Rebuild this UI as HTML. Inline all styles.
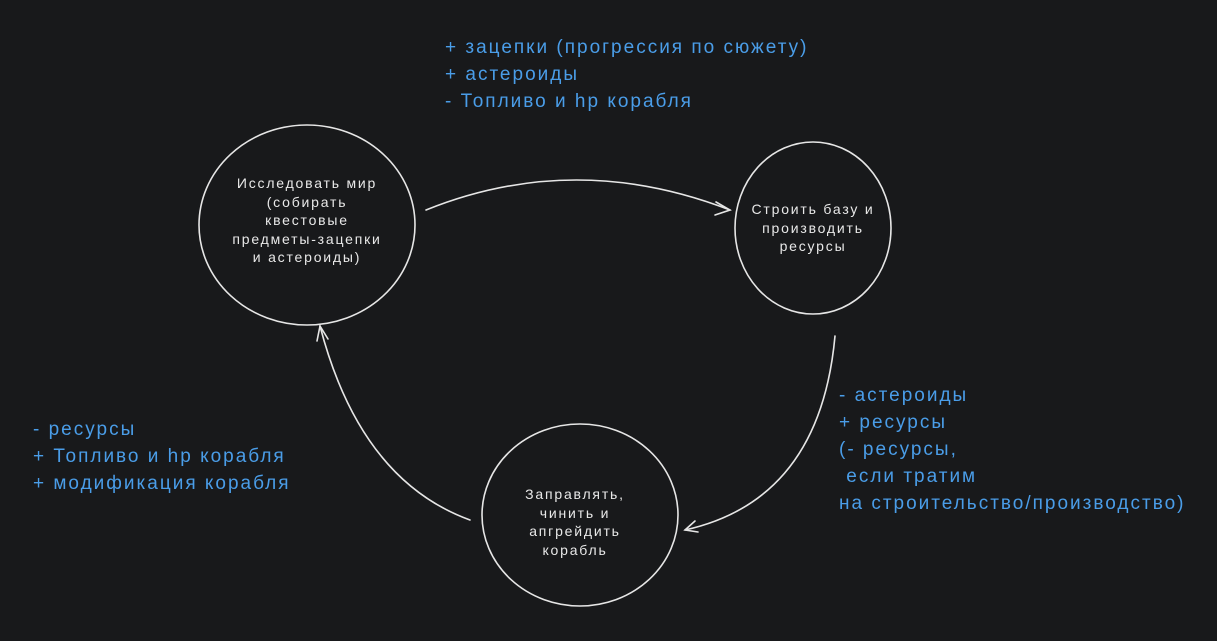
<!DOCTYPE html>
<html><head><meta charset="utf-8"><style>
html,body{margin:0;padding:0;background:#18191b;}
body{width:1217px;height:641px;overflow:hidden;position:relative;font-family:"Liberation Sans","DejaVu Sans",sans-serif;}
.b{position:absolute;color:#4a9de8;font-size:19px;line-height:27px;white-space:pre;letter-spacing:2px;}
.w{position:absolute;color:#e8e8e8;font-size:14px;line-height:18.5px;text-align:center;white-space:pre;letter-spacing:1.8px;}
</style></head><body>
<svg width="1217" height="641" style="position:absolute;left:0;top:0" fill="none" stroke="#e6e6e6" stroke-width="1.6" stroke-linecap="round">
<ellipse cx="307" cy="225" rx="108" ry="100"/>
<ellipse cx="813" cy="228" rx="78" ry="86"/>
<ellipse cx="580" cy="515" rx="98" ry="91"/>
<path d="M426 210 Q575 150 730 210"/>
<path d="M716 202 L730 210 L715 215"/>
<path d="M835 336 Q820 500 685 530"/>
<path d="M695 521 L685 530 L698 532"/>
<path d="M470 520 Q360 480 320 326"/>
<path d="M317 341 L320 326 L328 339"/>
</svg>
<div class="b" style="left:445px;top:34px">+ зацепки (прогрессия по сюжету)
+ астероиды
- Топливо и hp корабля</div>
<div class="b" style="left:839px;top:382px">- астероиды
+ ресурсы
(- ресурсы,
 если тратим
на строительство/производство)</div>
<div class="b" style="left:33px;top:416px">- ресурсы
+ Топливо и hp корабля
+ модификация корабля</div>
<div class="w" style="left:197px;top:174px;width:220px">Исследовать мир
(собирать
квестовые
предметы-зацепки
и астероиды)</div>
<div class="w" style="left:725px;top:200px;width:176px">Строить базу и
производить
ресурсы</div>
<div class="w" style="left:480px;top:485px;width:190px">Заправлять,
чинить и
апгрейдить
корабль</div>
</body></html>
